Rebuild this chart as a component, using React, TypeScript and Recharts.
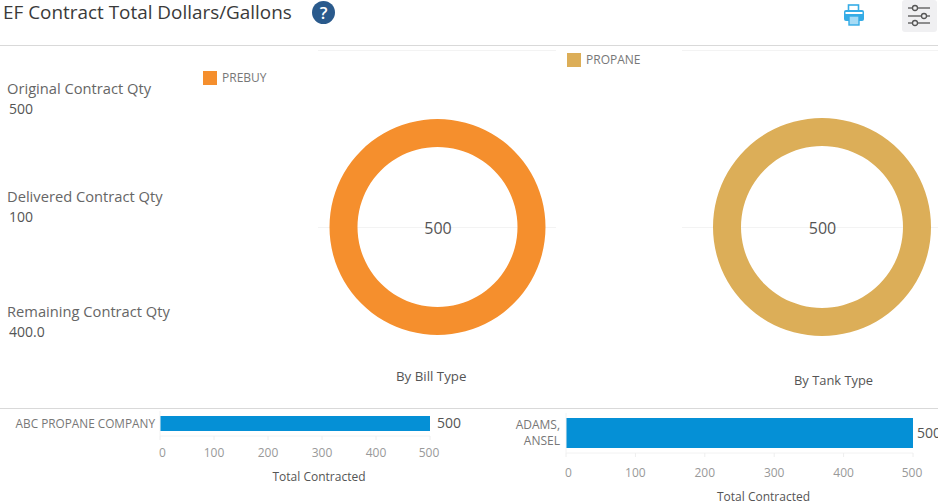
import React from 'react';
import { Bar, BarChart, Cell, LabelList, Legend, Pie, PieChart, XAxis, YAxis } from 'recharts';

const FONT = '"Open Sans", sans-serif';

// summary figures on the left
const kpiNames = ['Original Contract Qty', 'Delivered Contract Qty', 'Remaining Contract Qty'];
const kpiValues = ['500', '100', '400.0'];
const kpiTops = [79, 187, 302];

// donuts
const billTypes = ['PREBUY'];
const billValues = [500];
const tankTypes = ['PROPANE'];
const tankValues = [500];

// bars
const suppliers = ['ABC PROPANE COMPANY'];
const supplierValues = [500];
const customers = ['ADAMS, ANSEL'];
const customerValues = [500];
const contractTicks = [0, 100, 200, 300, 400, 500];

const billData = billTypes.map((name, i) => ({ name, value: billValues[i] }));
const tankData = tankTypes.map((name, i) => ({ name, value: tankValues[i] }));
const supplierData = suppliers.map((name, i) => ({ name, value: supplierValues[i] }));
const customerData = customers.map((name, i) => ({ name, value: customerValues[i] }));

const abs = (left: number, top: number, extra: React.CSSProperties = {}): React.CSSProperties => ({
  position: 'absolute',
  left,
  top,
  whiteSpace: 'nowrap',
  ...extra,
});

const legendText = (value: string) => (
  <span style={{ color: '#777', fontSize: 12, fontFamily: FONT, marginLeft: 1 }}>{value}</span>
);

// total in the hole of the donut
const CenterValue = ({ cx, cy, value }: any) => (
  <text x={cx + 0.5} y={cy + 7} textAnchor="middle" fontSize={16} fontFamily={FONT} fill="#555">
    {value}
  </text>
);

const Donut = ({ data, color, left, width, cx, inner, outer, legendX, legendY }: any) => (
  <div style={abs(left, 46)}>
    <PieChart width={width} height={340} margin={{ top: 0, right: 0, bottom: 0, left: 0 }}>
      <Legend
        layout="vertical"
        iconType="square"
        iconSize={14}
        formatter={legendText}
        wrapperStyle={{ left: legendX, top: legendY, width: 'auto', height: 'auto' }}
      />
      <Pie
        data={data}
        dataKey="value"
        nameKey="name"
        cx={cx}
        cy={181}
        innerRadius={inner}
        outerRadius={outer}
        startAngle={90}
        endAngle={-270}
        stroke="none"
        label={<CenterValue />}
        labelLine={false}
        isAnimationActive={false}
      >
        {data.map((d: any) => (
          <Cell key={d.name} fill={color} />
        ))}
      </Pie>
    </PieChart>
  </div>
);

// names break after the comma, like the dashboard does in narrow panes
const NameTick = ({ x, y, payload, wrap, dx }: any) => {
  const lines = wrap ? payload.value.split(' ') : [payload.value];
  const start = y + 4 - ((lines.length - 1) * 16) / 2;
  return (
    <text textAnchor="end" fontSize={wrap ? 12 : 11.8} fontFamily={FONT} fill="#777">
      {lines.map((line: string, i: number) => (
        <tspan key={line} x={x + dx} y={start + i * 16}>
          {line}
        </tspan>
      ))}
    </text>
  );
};

// the end labels sit a little inside the plot
const ValueTick = ({ x, y, payload }: any) => {
  const nudge = payload.value === 0 ? 2.5 : payload.value === 500 ? -1 : 0;
  return (
    <text x={x + nudge} y={y + 11} textAnchor="middle" fontSize={12} fontFamily={FONT} fill="#999">
      {payload.value}
    </text>
  );
};

const ContractBar = ({ data, left, top, width, height, yWidth, barSize, wrap, right, tickMargin, titleDx, titleOffset, nameDx, valueOffset }: any) => (
  <div style={abs(left, top)}>
    <BarChart
      layout="vertical"
      width={width}
      height={height}
      data={data}
      margin={{ top: 5, right, bottom: 0, left: 0 }}
    >
      <XAxis
        type="number"
        domain={[0, 500]}
        ticks={contractTicks}
        height={height - 5 - (barSize + 10)}
        axisLine={{ stroke: '#f2f2f2' }}
        tickLine={{ stroke: '#eeeeee' }}
        tickSize={4}
        tickMargin={tickMargin}
        tick={<ValueTick />}
        interval={0}
        label={{
          value: 'Total Contracted',
          position: 'insideBottom',
          offset: titleOffset,
          dx: titleDx,
          style: { fontSize: 12, fontFamily: FONT, fill: '#555' },
        }}
      />
      <YAxis
        type="category"
        dataKey="name"
        width={yWidth}
        axisLine={{ stroke: '#f2f2f2' }}
        tickLine={false}
        tick={<NameTick wrap={wrap} dx={nameDx} />}
      />
      <Bar dataKey="value" fill="#0590d6" barSize={barSize} isAnimationActive={false}>
        <LabelList
          dataKey="value"
          position="right"
          offset={valueOffset}
          style={{ fontSize: 14, fontFamily: FONT, fill: '#555' }}
        />
      </Bar>
    </BarChart>
  </div>
);

const PrintIcon = () => (
  <svg width={22} height={22} viewBox="0 0 22 22" style={abs(843, 4)}>
    <rect x="5.5" y="1" width="10" height="6" fill="none" stroke="#35ace6" strokeWidth="1.6" />
    <rect x="1" y="6" width="20" height="11" rx="2" fill="#35ace6" />
    <rect x="2.5" y="8" width="17" height="2" fill="#ffffff" />
    <rect x="6" y="12" width="10" height="9" fill="#a6dbf5" stroke="#35ace6" strokeWidth="1.4" />
  </svg>
);

const SliderIcon = () => (
  <div style={abs(902, 0, { width: 35, height: 32, background: '#f0f0f2', borderRadius: 3 })}>
    <svg width={35} height={32} viewBox="0 0 35 32">
      {[
        [7, 6],
        [16, 14],
        [7, 21],
      ].map(([cx, cy]) => (
        <g key={cy}>
          <line x1={6} x2={28} y1={cy + 2} y2={cy + 2} stroke="#555" strokeWidth={1.3} />
          <circle cx={cx + 6} cy={cy + 2} r={2.5} fill="#f0f0f2" stroke="#555" strokeWidth={1.3} />
        </g>
      ))}
    </svg>
  </div>
);

export default function App() {
  return (
    <div style={abs(0, 0, { width: 938, height: 504, overflow: 'hidden', background: '#fff', fontFamily: FONT })}>
      <div style={abs(3, 0, { fontSize: 18.9, color: '#3a3a3a', lineHeight: '24px' })}>
        EF Contract Total Dollars/Gallons
      </div>
      <div
        style={abs(312, 1, {
          width: 23,
          height: 23,
          borderRadius: 12,
          background: '#2a5a8c',
          color: '#fff',
          fontSize: 17,
          fontWeight: 600,
          lineHeight: '23px',
          textAlign: 'center',
        })}
      >
        ?
      </div>
      <PrintIcon />
      <SliderIcon />

      <div style={abs(0, 45, { width: 938, height: 1, background: '#d9d9d9' })} />
      <div style={abs(0, 408, { width: 938, height: 1, background: '#d9d9d9' })} />

      {/* faint pane grid behind the donuts */}
      <div style={abs(318, 50, { width: 238, height: 1, background: '#f3f3f3' })} />
      <div style={abs(318, 227, { width: 238, height: 1, background: '#f3f3f3' })} />
      <div style={abs(682, 50, { width: 256, height: 1, background: '#f3f3f3' })} />
      <div style={abs(682, 227, { width: 256, height: 1, background: '#f3f3f3' })} />

      {kpiNames.map((name, i) => (
        <React.Fragment key={name}>
          <div style={abs(7, kpiTops[i], { fontSize: 14.7, color: '#666', lineHeight: '18px' })}>{name}</div>
          <div style={abs(9, kpiTops[i] + 21, { fontSize: 14, color: '#555', lineHeight: '18px' })}>{kpiValues[i]}</div>
        </React.Fragment>
      ))}

      <Donut data={billData} color="#f58f2d" left={190} width={370} cx={247.5} inner={80} outer={108} legendX={13} legendY={19} />
      <Donut data={tankData} color="#dcae58" left={560} width={378} cx={262} inner={81} outer={109} legendX={7} legendY={1} />

      <div style={abs(396, 368, { fontSize: 13.3, color: '#555', lineHeight: '16px' })}>By Bill Type</div>
      <div style={abs(794, 372, { fontSize: 12.9, color: '#555', lineHeight: '16px' })}>By Tank Type</div>

      <ContractBar data={supplierData} left={0} top={406} width={470} height={78} yWidth={160} barSize={15} right={40} tickMargin={6} titleDx={24} titleOffset={3} nameDx={3} valueOffset={7} />
      <ContractBar data={customerData} left={400} top={408} width={560} height={96} yWidth={166} barSize={30} wrap right={47} tickMargin={9} titleDx={24} titleOffset={3} nameDx={2} valueOffset={4} />
    </div>
  );
}
